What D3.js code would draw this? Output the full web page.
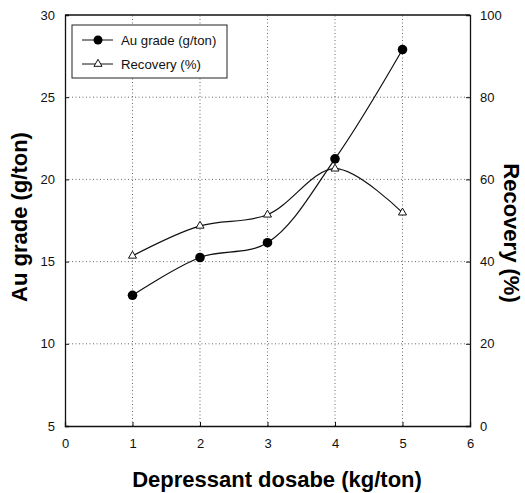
<!DOCTYPE html>
<html>
<head>
<meta charset="utf-8">
<script src="https://cdn.jsdelivr.net/npm/d3@7"></script>
<style>
  body { margin: 0; background: #fff; }
  text { font-family: Arial, "Liberation Sans", sans-serif; }
</style>
</head>
<body>
<script>
// chart data
const dosage   = [1, 2, 3, 4, 5];
const auGrade  = [12.95, 15.25, 16.15, 21.25, 27.9];
const recovery = [41.4, 48.7, 51.4, 62.6, 51.9];

const xTicks     = [0, 1, 2, 3, 4, 5, 6];
const leftTicks  = [5, 10, 15, 20, 25, 30];
const rightTicks = [0, 20, 40, 60, 80, 100];

const width  = 525;
const height = 493;
const margin = { top: 15, right: 55, bottom: 67, left: 65 };

const svg = d3.select('body')
  .append('svg')
    .attr('width',  width)
    .attr('height', height);

// scales
const x  = d3.scaleLinear().domain([0, 6]).range([margin.left, width - margin.right]);
const yL = d3.scaleLinear().domain([5, 30]).range([height - margin.bottom, margin.top]);
const yR = d3.scaleLinear().domain([0, 100]).range([height - margin.bottom, margin.top]);

// dotted grid
const grid = svg.append('g')
  .attr('stroke', '#444')
  .attr('stroke-width', 0.8)
  .attr('stroke-dasharray', '1,2.5');

grid.selectAll('.gx')
  .data(xTicks.slice(1, -1))
  .join('line')
    .attr('x1', (d) => x(d)).attr('x2', (d) => x(d))
    .attr('y1', yL(5)).attr('y2', yL(30));

grid.selectAll('.gy')
  .data(leftTicks.slice(1, -1))
  .join('line')
    .attr('x1', x(0)).attr('x2', x(6))
    .attr('y1', (d) => yL(d)).attr('y2', (d) => yL(d));

// axes
const bottomAxis = d3.axisBottom(x).tickValues(xTicks).tickFormat(d3.format('d')).tickSize(-4).tickPadding(13);
const leftAxis   = d3.axisLeft(yL).tickValues(leftTicks).tickFormat(d3.format('d')).tickSize(-4).tickPadding(10);
const rightAxis  = d3.axisRight(yR).tickValues(rightTicks).tickFormat(d3.format('d')).tickSize(-4).tickPadding(10);

function styleAxis(g) {
  g.select('.domain').attr('stroke', '#111').attr('stroke-width', 1.3);
  g.selectAll('.tick line').attr('stroke', '#111');
  g.selectAll('.tick text').attr('font-size', 13).attr('fill', '#111');
}

svg.append('g')
  .attr('transform', `translate(0,${yL(5)})`)
  .call(bottomAxis)
  .call(styleAxis);

svg.append('g')
  .attr('transform', `translate(${x(0)},0)`)
  .call(leftAxis)
  .call(styleAxis);

svg.append('g')
  .attr('transform', `translate(${x(6)},0)`)
  .call(rightAxis)
  .call(styleAxis);

// top border
svg.append('line')
  .attr('x1', x(0)).attr('x2', x(6))
  .attr('y1', yL(30)).attr('y2', yL(30))
  .attr('stroke', '#111').attr('stroke-width', 1.3);

// curves
const curve = d3.curveCatmullRom.alpha(0.5);

const auLine = d3.line()
  .x((d, i) => x(dosage[i]))
  .y((d) => yL(d))
  .curve(curve);

const recLine = d3.line()
  .x((d, i) => x(dosage[i]))
  .y((d) => yR(d))
  .curve(curve);

svg.append('path')
  .datum(auGrade)
  .attr('d', auLine)
  .attr('fill', 'none')
  .attr('stroke', '#111')
  .attr('stroke-width', 1.2);

svg.append('path')
  .datum(recovery)
  .attr('d', recLine)
  .attr('fill', 'none')
  .attr('stroke', '#111')
  .attr('stroke-width', 1.2);

// markers
const triangle = d3.symbol().type(d3.symbolTriangle).size(28);

svg.selectAll('.au')
  .data(auGrade)
  .join('circle')
    .attr('cx', (d, i) => x(dosage[i]))
    .attr('cy', (d) => yL(d))
    .attr('r', 4.8)
    .attr('fill', '#000');

svg.selectAll('.rec')
  .data(recovery)
  .join('path')
    .attr('d', triangle)
    .attr('transform', (d, i) => `translate(${x(dosage[i])},${yR(d)})`)
    .attr('fill', '#fff')
    .attr('stroke', '#111')
    .attr('stroke-width', 1);

// legend
const legend = svg.append('g');

legend.append('rect')
  .attr('x', 72).attr('y', 25)
  .attr('width', 155).attr('height', 53)
  .attr('fill', '#fff')
  .attr('stroke', '#222')
  .attr('stroke-width', 1);

const items = [
  { label: 'Au grade (g/ton)', y: 40, kind: 'circle' },
  { label: 'Recovery (%)',     y: 64, kind: 'triangle' }
];

items.forEach((it) => {
  legend.append('line')
    .attr('x1', 82).attr('x2', 113)
    .attr('y1', it.y).attr('y2', it.y)
    .attr('stroke', '#111').attr('stroke-width', 1);

  if (it.kind === 'circle') {
    legend.append('circle')
      .attr('cx', 98).attr('cy', it.y).attr('r', 4.5).attr('fill', '#000');
  } else {
    legend.append('path')
      .attr('d', triangle)
      .attr('transform', `translate(98,${it.y})`)
      .attr('fill', '#fff').attr('stroke', '#111');
  }

  legend.append('text')
    .attr('x', 121).attr('y', it.y)
    .attr('dy', '0.35em')
    .attr('font-size', 13.2)
    .attr('fill', '#111')
    .text(it.label);
});

// axis titles
svg.append('text')
  .attr('transform', 'translate(19,217) rotate(-90)')
  .attr('text-anchor', 'middle')
  .attr('dy', '0.35em')
  .attr('font-size', 22)
  .attr('font-weight', 'bold')
  .text('Au grade (g/ton)');

svg.append('text')
  .attr('transform', 'translate(512,233) rotate(90)')
  .attr('text-anchor', 'middle')
  .attr('dy', '0.35em')
  .attr('font-size', 22)
  .attr('font-weight', 'bold')
  .text('Recovery (%)');

svg.append('text')
  .attr('x', 277)
  .attr('y', 487)
  .attr('text-anchor', 'middle')
  .attr('font-size', 22)
  .attr('font-weight', 'bold')
  .text('Depressant dosabe (kg/ton)');
</script>
</body>
</html>
